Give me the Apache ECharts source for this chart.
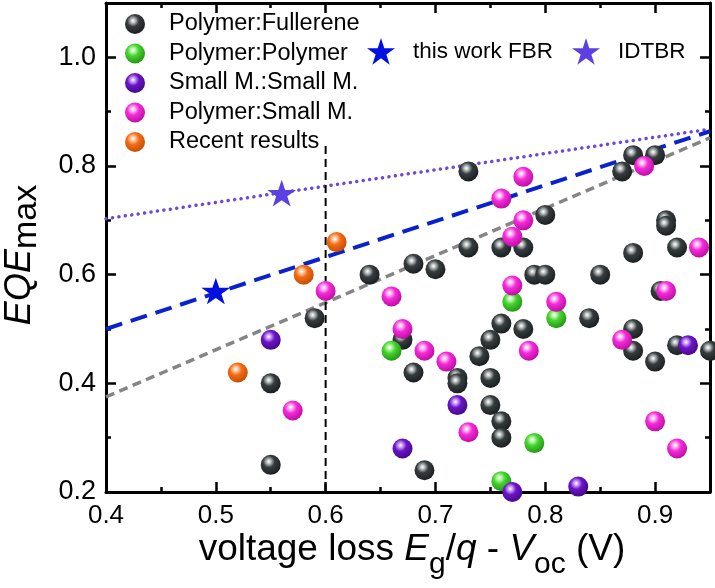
<!DOCTYPE html>
<html>
<head>
<meta charset="utf-8">
<script src="https://cdn.jsdelivr.net/npm/echarts@6/dist/echarts.min.js"></script>
<style>html,body{margin:0;padding:0;background:#fff}#c{width:715px;height:588px}</style>
</head>
<body>
<div id="c"></div>
<script>
// ---- data ----
const xTickLabels = ['0.4', '0.5', '0.6', '0.7', '0.8', '0.9'];
const yTickLabels = ['0.2', '0.4', '0.6', '0.8', '1.0'];
const legendGroups = ['Polymer:Fullerene', 'Polymer:Polymer', 'Small M.:Small M.', 'Polymer:Small M.', 'Recent results'];
const starNames = ['this work FBR', 'IDTBR'];

const polymerFullerene = [
  [0.55, 0.25], [0.55, 0.40], [0.59, 0.52], [0.64, 0.60], [0.67, 0.48], [0.68, 0.62], [0.68, 0.42],
  [0.69, 0.24], [0.70, 0.61], [0.72, 0.41], [0.72, 0.40], [0.73, 0.79], [0.73, 0.65], [0.74, 0.45],
  [0.75, 0.48], [0.75, 0.41], [0.75, 0.36], [0.76, 0.65], [0.76, 0.51], [0.76, 0.33], [0.76, 0.30],
  [0.78, 0.65], [0.78, 0.50], [0.79, 0.60], [0.80, 0.60], [0.80, 0.71], [0.84, 0.52], [0.85, 0.60],
  [0.87, 0.79], [0.88, 0.82], [0.88, 0.64], [0.88, 0.50], [0.88, 0.46], [0.90, 0.82], [0.90, 0.44],
  [0.905, 0.57], [0.91, 0.70], [0.91, 0.69], [0.92, 0.65], [0.92, 0.47], [0.95, 0.46]
];
const polymerPolymer = [[0.66, 0.46], [0.77, 0.55], [0.81, 0.52], [0.79, 0.29], [0.76, 0.22]];
const smallSmall = [[0.55, 0.48], [0.67, 0.28], [0.72, 0.36], [0.77, 0.20], [0.83, 0.21], [0.93, 0.47]];
const polymerSmall = [
  [0.57, 0.35], [0.60, 0.57], [0.66, 0.56], [0.67, 0.50], [0.69, 0.46], [0.71, 0.44], [0.73, 0.31],
  [0.76, 0.74], [0.77, 0.67], [0.77, 0.58], [0.78, 0.78], [0.78, 0.70], [0.785, 0.46], [0.81, 0.55],
  [0.87, 0.48], [0.89, 0.80], [0.90, 0.33], [0.91, 0.57], [0.92, 0.28], [0.94, 0.65]
];
const recentResults = [[0.52, 0.42], [0.58, 0.60], [0.61, 0.66]];
const fbrStar = [[0.50, 0.57]];
const idtbrStar = [[0.56, 0.75]];

const lineIDTBR = [[0.4, 0.703], [0.95, 0.868]];
const lineFBR = [[0.4, 0.500], [0.95, 0.864]];
const lineGray = [[0.4, 0.375], [0.95, 0.852]];
const lineVertical = [[0.6, 0.2], [0.6, 0.84]];

// ---- styling ----
const FONT = '"Liberation Sans", Arial, Helvetica, sans-serif';
const STAR = 'path://M0,-10 L2.245,-3.09 L9.51,-3.09 L3.633,1.18 L5.88,8.09 L0,3.82 L-5.88,8.09 L-3.633,1.18 L-9.51,-3.09 L-2.245,-3.09 Z';

function sphere(light, base, dark) {
  return {
    type: 'radial', x: 0.4, y: 0.34, r: 0.7,
    colorStops: [
      { offset: 0, color: '#ffffff' },
      { offset: 0.13, color: light },
      { offset: 0.42, color: base },
      { offset: 1, color: dark }
    ]
  };
}

const groupData = [polymerFullerene, polymerPolymer, smallSmall, polymerSmall, recentResults];
const groupColors = [
  sphere('#c8cccc', '#363c3e', '#181c1e'),
  sphere('#c8f8b8', '#44d42e', '#249014'),
  sphere('#d8b0ff', '#6c14c8', '#420884'),
  sphere('#ffc8f4', '#f52ad8', '#b80ca0'),
  sphere('#ffd6b4', '#f46c14', '#c04c04')
];

function fmt(labels) {
  return function (v) {
    const s = v.toFixed(1);
    return labels.indexOf(s) >= 0 ? s : '';
  };
}

const axisLineStyle = { color: '#000', width: 3 };
function makeX(pos, showLabel) {
  return {
    type: 'value', min: 0.4, max: 0.95, interval: 0.1, position: pos,
    axisLine: { show: true, onZero: false, lineStyle: axisLineStyle },
    axisTick: { show: true, inside: true, length: 10, lineStyle: { color: '#000', width: 2.5 } },
    minorTick: { show: true, splitNumber: 2, length: 5, lineStyle: { color: '#000', width: 2.5 } },
    splitLine: { show: false },
    minorSplitLine: { show: false },
    axisLabel: { show: showLabel, margin: 11, fontSize: 26, color: '#000', fontFamily: FONT, formatter: fmt(xTickLabels), showMaxLabel: false }
  };
}
function makeY(pos, showLabel) {
  return {
    type: 'value', min: 0.2, max: 1.1, interval: 0.2, position: pos,
    axisLine: { show: true, onZero: false, lineStyle: axisLineStyle },
    axisTick: { show: true, inside: true, length: 10, lineStyle: { color: '#000', width: 2.5 } },
    minorTick: { show: true, splitNumber: 2, length: 5, lineStyle: { color: '#000', width: 2.5 } },
    splitLine: { show: false },
    minorSplitLine: { show: false },
    axisLabel: { show: showLabel, margin: 10, fontSize: 27, color: '#000', fontFamily: FONT, formatter: fmt(yTickLabels), showMaxLabel: false }
  };
}

function refLine(data, color, width, dash, cap) {
  return {
    type: 'line', data: data, showSymbol: false, symbol: 'none', silent: true, z: 2,
    xAxisIndex: 0, yAxisIndex: 0,
    lineStyle: { color: color, width: width, type: dash, cap: cap || 'butt' },
    emphasis: { disabled: true }
  };
}

const series = [
  refLine(lineIDTBR, '#7048d8', 3.5, [0.1, 6.4], 'round'),
  refLine(lineFBR, '#0a22cc', 4, [17, 9]),
  refLine(lineGray, '#858585', 3.5, [9, 5.5]),
  refLine(lineVertical, '#000000', 2, [8, 5])
];
legendGroups.forEach(function (name, i) {
  series.push({
    name: name, type: 'scatter', data: groupData[i], symbol: 'circle', symbolSize: 20, z: 3,
    xAxisIndex: 0, yAxisIndex: 0,
    itemStyle: { color: groupColors[i], opacity: 1 },
    emphasis: { disabled: true }
  });
});
series.push({
  name: starNames[0], type: 'scatter', data: fbrStar, symbol: STAR, symbolSize: [29, 28], symbolKeepAspect: true, z: 4,
  itemStyle: { color: '#0010e0', opacity: 1 }, emphasis: { disabled: true }
});
series.push({
  name: starNames[1], type: 'scatter', data: idtbrStar, symbol: STAR, symbolSize: [29, 28], symbolKeepAspect: true, z: 4,
  itemStyle: { color: '#5c40e2', opacity: 1 }, emphasis: { disabled: true }
});

const chart = echarts.init(document.getElementById('c'), null, { renderer: 'canvas' });
chart.setOption({
  backgroundColor: '#ffffff',
  animation: false,
  textStyle: { fontFamily: FONT },
  grid: { left: 106, right: 5, top: 3, bottom: 96, containLabel: false, outerBoundsMode: 'none' },
  xAxis: [makeX('bottom', true), makeX('top', false)],
  yAxis: [makeY('left', true), makeY('right', false)],
  legend: [
    {
      data: legendGroups, orient: 'vertical', left: 125, top: 12, padding: 0,
      itemWidth: 20, itemHeight: 20, itemGap: 5.5, selectedMode: false,
      itemStyle: { opacity: 1 },
      textStyle: { fontSize: 23.5, lineHeight: 23, color: '#000', fontFamily: FONT, padding: [0, 0, 0, 19] }
    },
    {
      data: starNames, orient: 'horizontal', left: 367, top: 38, padding: 0,
      itemWidth: 28, itemHeight: 28, itemGap: 19, selectedMode: false,
      itemStyle: { opacity: 1 },
      textStyle: { fontSize: 22.5, lineHeight: 23, color: '#000', fontFamily: FONT, padding: [0, 0, 0, 13] }
    }
  ],
  graphic: [
    {
      type: 'text', x: 412, y: 530, silent: true,
      style: {
        text: '{n|voltage loss }{i|E}{s|g}{n|/}{i|q}{n| - }{i|V}{s|oc}{n| (V)}',
        align: 'center', verticalAlign: 'top', fill: '#000',
        rich: {
          n: { fontSize: 37, fontFamily: FONT, lineHeight: 40, color: '#000' },
          i: { fontSize: 37, fontFamily: FONT, fontStyle: 'italic', lineHeight: 40, color: '#000' },
          s: { fontSize: 30, fontFamily: FONT, lineHeight: 40, padding: [30, 0, 0, 0], color: '#000' }
        }
      }
    },
    {
      type: 'text', x: 0, y: 255, rotation: Math.PI / 2, silent: true,
      style: {
        text: '{i|EQE}{s|max}',
        align: 'center', verticalAlign: 'top', fill: '#000',
        rich: {
          i: { fontSize: 36, fontFamily: FONT, fontStyle: 'italic', lineHeight: 40, color: '#000' },
          s: { fontSize: 34, fontFamily: FONT, lineHeight: 40, padding: [14, 0, 0, 0], color: '#000' }
        }
      }
    }
  ],
  series: series
});
</script>
</body>
</html>
